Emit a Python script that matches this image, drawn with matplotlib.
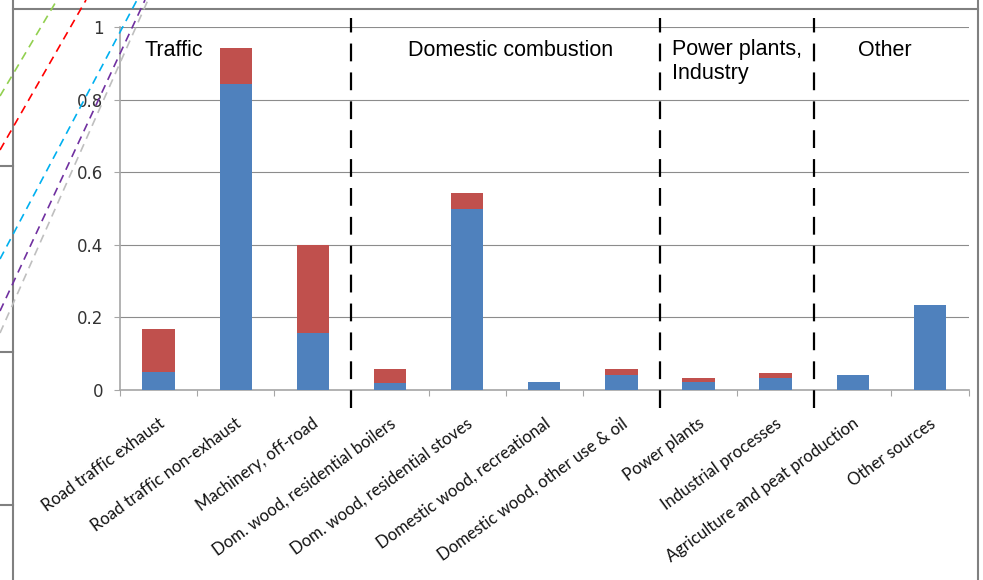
# Stacked bar chart of source contributions by sector

import numpy as np
import matplotlib
matplotlib.use('Agg')
import matplotlib.pyplot as plt
from matplotlib.lines import Line2D

# Data
categories = ['Road traffic exhaust', 'Road traffic non-exhaust', 'Machinery, off-road',
              'Dom. wood, residential boilers', 'Dom. wood, residential stoves',
              'Domestic wood, recreational', 'Domestic wood, other use & oil',
              'Power plants', 'Industrial processes', 'Agriculture and peat production',
              'Other sources']
blue_values = [0.050, 0.842, 0.156, 0.018, 0.499, 0.023, 0.041, 0.023, 0.032, 0.040, 0.235]
red_values = [0.118, 0.101, 0.244, 0.039, 0.044, 0.0, 0.016, 0.011, 0.016, 0.0, 0.0]
group_names = ['Traffic', 'Domestic combustion', 'Power plants,\nIndustry', 'Other']
group_breaks = [3, 7, 9]  # number of categories before each dashed separator
y_ticks = [0, 0.2, 0.4, 0.6, 0.8, 1]
y_tick_labels = ['0', '0.2', '0.4', '0.6', '0.8', '1']

W, H = 983, 580
fig = plt.figure(figsize=(W / 100, H / 100), dpi=100)
ax = fig.add_axes([120 / W, 1 - 390 / H, (968.5 - 120) / W, (390 - 27) / H])

x = np.arange(len(categories))
ax.bar(x, blue_values, width=0.42, color='#4F81BD', zorder=3)
ax.bar(x, red_values, width=0.42, bottom=blue_values, color='#C0504D', zorder=3)

ax.set_xlim(-0.5, len(categories) - 0.5)
ax.set_ylim(0, 1)

# Gridlines and axes
ax.set_yticks(y_ticks)
ax.set_yticklabels(y_tick_labels, fontsize=12, color='#333333', family='DejaVu Sans')
ax.yaxis.grid(True, color='#8c8c8c', lw=0.8, zorder=0)
for s in ['top', 'right']:
    ax.spines[s].set_visible(False)
for s in ['left', 'bottom']:
    ax.spines[s].set_color('#a6a6a6')
    ax.spines[s].set_linewidth(1.2)
ax.tick_params(axis='y', length=4, color='#a6a6a6', pad=8)

# x ticks at category boundaries, labels at centres
ax.set_xticks(np.arange(len(categories) + 1) - 0.5)
ax.set_xticklabels([])
ax.tick_params(axis='x', length=4, color='#a6a6a6')
for i, name in enumerate(categories):
    ax.text(i - 0.01, -0.07, name, rotation=36, rotation_mode='anchor',
            ha='right', va='top', fontsize=12, family='Lato', color='#111111')

# Dashed separators between groups
for b in group_breaks:
    ax.plot([b - 0.5, b - 0.5], [-0.05, 1.025], color='black', lw=1.6,
            linestyle=(0, (8, 5)), clip_on=False, zorder=4)

# Group labels
ax.text(-0.18, 0.935, group_names[0], fontsize=15.5, family='Liberation Sans', va='center')
ax.text(4.56, 0.935, group_names[1], fontsize=15.5, family='Liberation Sans', va='center', ha='center')
ax.text(6.66, 0.968, group_names[2], fontsize=15.5, family='Liberation Sans', va='top', linespacing=1.2)
ax.text(9.42, 0.935, group_names[3], fontsize=15.5, family='Liberation Sans', va='center', ha='center')


# Outer frame and leftover lines from the screenshot
def px(xp, yp):
    return xp / W, 1 - yp / H


frame = [((13, 0), (13, 580)), ((978, 0), (978, 580)), ((13, 9), (978, 9)),
         ((0, 166), (13, 166)), ((0, 352), (13, 352)), ((0, 505), (13, 505))]
for p0, p1 in frame:
    (x0, y0), (x1, y1) = px(*p0), px(*p1)
    fig.add_artist(Line2D([x0, x1], [y0, y1], color='#808080', lw=1.5,
                          transform=fig.transFigure))

dashed = [('#92D050', (0, 96), (57, 0)), ('#FF0000', (0, 150), (86, 0)),
          ('#00B0F0', (0, 259), (137, 0)), ('#7030A0', (0, 311), (145, 0)),
          ('#BFBFBF', (0, 333), (148, 0))]
for c, p0, p1 in dashed:
    (x0, y0), (x1, y1) = px(*p0), px(*p1)
    fig.add_artist(Line2D([x0, x1], [y0, y1], color=c, lw=1.2, linestyle=(0, (5, 3.5)),
                          transform=fig.transFigure))

plt.savefig('out.png', format='png', dpi=100)
plt.close()
